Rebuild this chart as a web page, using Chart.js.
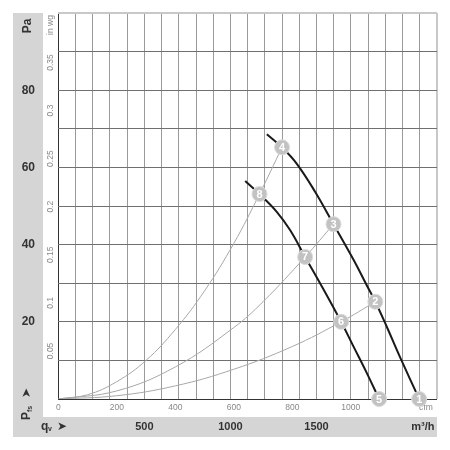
<!DOCTYPE html>
<html><head><meta charset="utf-8">
<script src="https://cdn.jsdelivr.net/npm/chart.js@4"></script>
<style>html,body{margin:0;padding:0;background:#fff}#wrap{width:450px;height:450px}</style>
</head><body><div id="wrap"><canvas id="c" width="450" height="450"></canvas></div>
<script>
// ---- tick labels ----
const cfmTicks = [0, 200, 400, 600, 800, 1000];
const m3hLabelTicks = [500, 1000, 1500];
const paLabelTicks = [20, 40, 60, 80];
const inwgTicks = [0.05, 0.1, 0.15, 0.2, 0.25, 0.3, 0.35];

// ---- fan curves (x: cfm, y: Pa) ----
const curveA_cfm = [713, 765, 815, 878, 941, 1010, 1055, 1084, 1125, 1170, 1234];
const curveA_pa  = [68.6, 65.2, 61.0, 53.7, 45.3, 36.0, 29.4, 25.2, 18.4, 10.6, 0];
const curveB_cfm = [639, 688, 747, 793, 844, 895, 967, 1010, 1055, 1097];
const curveB_pa  = [56.5, 53.1, 48.5, 43.7, 36.8, 30.0, 20.0, 13.5, 6.7, 0];

// ---- system curves ----
const sys1_cfm = [0, 100, 200, 300, 400, 500, 600, 688, 765];
const sys1_pa  = [0, 1.1, 4.5, 10.0, 18.0, 28.0, 40.3, 53.1, 65.2];
const sys2_cfm = [0, 200, 400, 600, 700, 844, 941];
const sys2_pa  = [0, 2.1, 8.3, 18.5, 25.2, 36.8, 45.3];
const sys3_cfm = [0, 200, 400, 600, 800, 967, 1084];
const sys3_pa  = [0, 0.85, 3.4, 7.7, 13.6, 20.0, 25.2];

// ---- operating points ----
const opLabels = ['1', '2', '3', '4', '5', '6', '7', '8'];
const op_cfm = [1234, 1084, 941, 765, 1097, 967, 844, 688];
const op_pa  = [0, 25.2, 45.3, 65.2, 0, 20.0, 36.8, 53.1];

// ---- axis ranges / units ----
const M3H_MAX = 2200, PA_MAX = 100;
const CFM_PER_M3H = 0.588578, PA_PER_INWG = 249.089;
const CFM_UNIT_AT = 1257, M3H_UNIT_AT = 2118, INWG_UNIT_AT = 0.389;

const FONT = "'Liberation Sans', Arial, sans-serif";
const BAND = '#d5d5d5';
Chart.defaults.font.family = FONT;

const pts = (xs, ys) => xs.map((x, i) => ({x, y: ys[i]}));

function fixBox(w, h) {
  return function (s) {
    if (w != null) s.width = w;
    if (h != null) s.height = h;
    s.paddingTop = 0; s.paddingBottom = 0; s.paddingLeft = 0; s.paddingRight = 0;
  };
}

const decor = {
  id: 'decor',
  beforeDraw(chart) {
    const {ctx, chartArea} = chart;
    const ys = chart.scales.y, xm = chart.scales.xm;
    ctx.save();
    ctx.fillStyle = BAND;
    ctx.fillRect(ys.left, chartArea.top, ys.width, xm.bottom - chartArea.top);
    ctx.fillRect(ys.left, xm.top, chartArea.right - ys.left, xm.height);
    ctx.restore();
  },
  afterDatasetsDraw(chart) {
    const {ctx} = chart;
    const meta = chart.getDatasetMeta(5);
    ctx.save();
    ctx.fillStyle = '#fff';
    ctx.font = 'bold 11px ' + FONT;
    ctx.textAlign = 'center';
    ctx.textBaseline = 'middle';
    meta.data.forEach((p, i) => ctx.fillText(opLabels[i], p.x, p.y + 0.5));
    ctx.restore();
  },
  afterDraw(chart) {
    const {ctx} = chart;
    const ys = chart.scales.y, xm = chart.scales.xm;
    const cx = ys.left + ys.width / 2;
    const cy = xm.top + xm.height / 2;
    ctx.save();
    ctx.fillStyle = '#333';
    // "Pa"
    ctx.save();
    ctx.translate(cx, 26); ctx.rotate(-Math.PI / 2);
    ctx.font = 'bold 12px ' + FONT; ctx.textAlign = 'center'; ctx.textBaseline = 'middle';
    ctx.fillText('Pa', 0, 0);
    ctx.restore();
    // "Pfs >"
    ctx.save();
    ctx.translate(cx - 1, 420); ctx.rotate(-Math.PI / 2);
    ctx.textAlign = 'left'; ctx.textBaseline = 'middle';
    ctx.font = 'bold 12px ' + FONT; ctx.fillText('P', 0, 0);
    ctx.font = 'bold 7px ' + FONT; ctx.fillText('fs', 8, 3);
    ctx.font = '12px DejaVu Sans'; ctx.fillText('\u27A4', 22, 0);
    ctx.restore();
    // "qv >"
    ctx.textAlign = 'left'; ctx.textBaseline = 'middle';
    ctx.font = 'bold 12px ' + FONT; ctx.fillText('q', 41, cy);
    ctx.font = 'bold 7px ' + FONT; ctx.fillText('v', 48, cy + 2);
    ctx.font = '12px DejaVu Sans'; ctx.fillText('\u27A4', 57, cy);
    ctx.restore();
  }
};

const xGridColor = c => {
  const v = c.tick && c.tick.value;
  if (v === M3H_UNIT_AT) return 'rgba(0,0,0,0)';
  if (v === 0) return '#333';
  if (v === M3H_MAX) return '#c8c8c8';
  return '#9a9a9a';
};
const yGridColor = c => {
  const v = c.tick && c.tick.value;
  if (v === 0) return '#333';
  if (v === PA_MAX) return '#c8c8c8';
  return '#707070';
};

new Chart(document.getElementById('c'), {
  type: 'line',
  data: {
    datasets: [
      {data: pts(sys1_cfm, sys1_pa), borderColor: '#a8a8a8', borderWidth: 1, pointRadius: 0, tension: 0.4, order: 3},
      {data: pts(sys2_cfm, sys2_pa), borderColor: '#a8a8a8', borderWidth: 1, pointRadius: 0, tension: 0.4, order: 3},
      {data: pts(sys3_cfm, sys3_pa), borderColor: '#a8a8a8', borderWidth: 1, pointRadius: 0, tension: 0.4, order: 3},
      {data: pts(curveA_cfm, curveA_pa), borderColor: '#1a1a1a', borderWidth: 2, pointRadius: 0, tension: 0.4, order: 2},
      {data: pts(curveB_cfm, curveB_pa), borderColor: '#1a1a1a', borderWidth: 2, pointRadius: 0, tension: 0.4, order: 2},
      {data: pts(op_cfm, op_pa), showLine: false, pointRadius: 7.5, pointBackgroundColor: '#c2c2c2', pointBorderColor: '#dadada', pointBorderWidth: 1, clip: false, order: 1}
    ]
  },
  options: {
    responsive: false,
    animation: false,
    events: [],
    layout: {padding: {left: 13, top: 13, right: 13, bottom: 13}},
    plugins: {legend: {display: false}, tooltip: {enabled: false}},
    scales: {
      x: {
        type: 'linear', position: 'bottom', weight: 0,
        min: 0, max: M3H_MAX * CFM_PER_M3H,
        afterBuildTicks: s => { s.ticks = cfmTicks.map(v => ({value: v})).concat([{value: CFM_UNIT_AT}]); },
        afterFit: fixBox(null, 18),
        grid: {display: false, drawTicks: false},
        border: {display: false},
        ticks: {autoSkip: false, maxRotation: 0, padding: 4, color: '#888', font: {size: 8.5},
          callback: v => v === CFM_UNIT_AT ? 'cfm' : String(v)}
      },
      xm: {
        type: 'linear', position: 'bottom', weight: 1,
        min: 0, max: M3H_MAX,
        afterBuildTicks: s => {
          const t = [];
          for (let v = 0; v <= M3H_MAX; v += 100) t.push({value: v});
          t.push({value: M3H_UNIT_AT});
          s.ticks = t;
        },
        afterFit: fixBox(null, 20),
        grid: {drawTicks: false, color: xGridColor, lineWidth: c => (c.tick && c.tick.value === M3H_MAX) ? 2 : 1},
        border: {display: false},
        ticks: {autoSkip: false, maxRotation: 0, padding: 3, color: '#333', font: {size: 11, weight: 'bold'},
          callback: v => v === M3H_UNIT_AT ? 'm\u00B3/h' : (m3hLabelTicks.includes(v) ? String(v) : '')}
      },
      y: {
        type: 'linear', position: 'left', weight: 1,
        min: 0, max: PA_MAX,
        afterBuildTicks: s => {
          const t = [];
          for (let v = 0; v <= PA_MAX; v += 10) t.push({value: v});
          s.ticks = t;
        },
        afterFit: fixBox(30, null),
        grid: {drawTicks: false, color: yGridColor, lineWidth: c => (c.tick && c.tick.value === PA_MAX) ? 2 : 1},
        border: {display: false},
        ticks: {autoSkip: false, crossAlign: 'center', padding: 8, color: '#333', font: {size: 12, weight: 'bold'},
          callback: v => paLabelTicks.includes(v) ? String(v) : ''}
      },
      yin: {
        type: 'linear', position: 'left', weight: 0,
        min: 0, max: PA_MAX,
        afterBuildTicks: s => {
          s.ticks = inwgTicks.map(v => ({value: v * PA_PER_INWG})).concat([{value: INWG_UNIT_AT * PA_PER_INWG}]);
        },
        afterFit: fixBox(15.3, null),
        grid: {display: false, drawTicks: false},
        border: {display: false},
        ticks: {autoSkip: false, minRotation: 90, maxRotation: 90, crossAlign: 'center', padding: -2, color: '#888', font: {size: 8.5},
          callback: v => {
            const w = v / PA_PER_INWG;
            if (Math.abs(w - INWG_UNIT_AT) < 1e-6) return 'in wg';
            return String(Math.round(w * 100) / 100);
          }}
      }
    }
  },
  plugins: [decor]
});
</script>
</body></html>
